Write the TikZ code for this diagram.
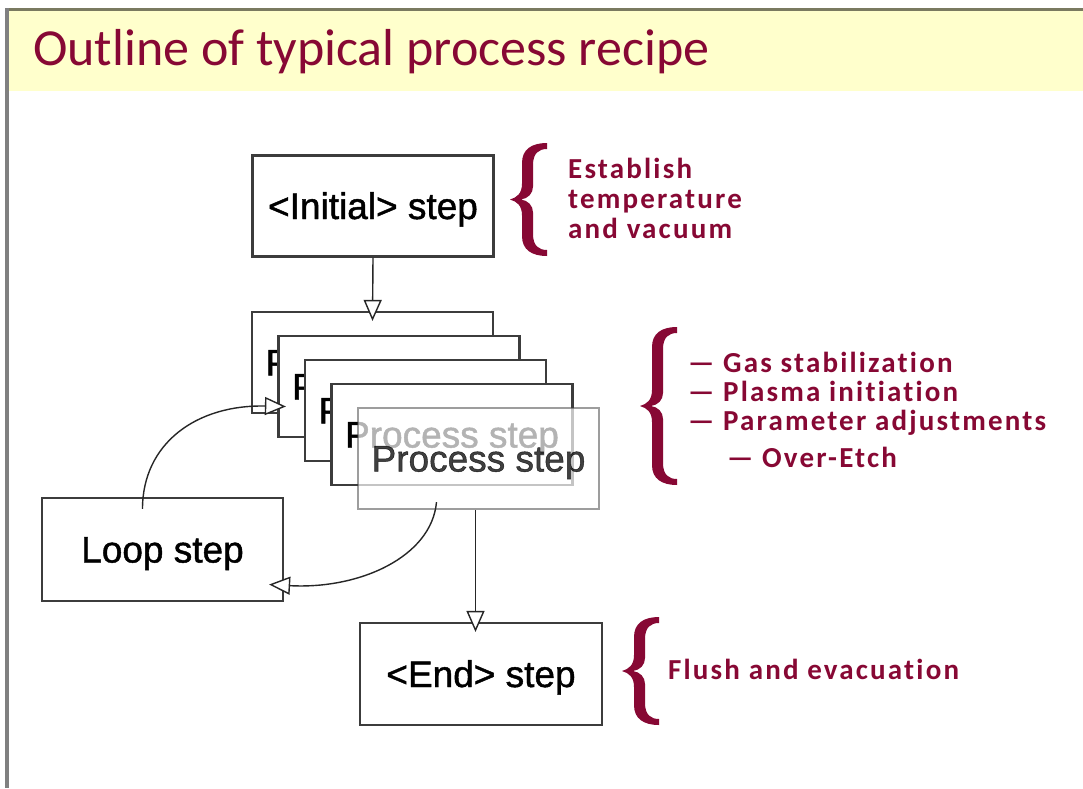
\documentclass[tikz,border=0pt]{standalone}
\usepackage{fontspec}
\setmainfont{Liberation Sans}
\newfontfamily\boxfont[FakeBold=1.2]{Liberation Sans}
\newfontfamily\notefont[LetterSpace=7.5,Ligatures=NoCommon]{Carlito}
\newfontfamily\titlefont{Carlito}
\usetikzlibrary{arrows.meta,calc}
\definecolor{rmaroon}{RGB}{135,8,52}
\definecolor{titlebg}{RGB}{255,255,204}
\definecolor{topline}{RGB}{122,122,96}
\definecolor{leftline}{RGB}{128,128,128}
\definecolor{boxline}{RGB}{60,60,60}
\newcommand\mybrace[3]{% #1 left x, #2 top y, #3 height
  \fill[rmaroon,shift={(#1,#2)}]
    (37,0) .. controls (22,0) and (12,6) .. (12,20)
    -- (12,{#3/2-16}) .. controls (12,{#3/2-6}) and (7,{#3/2-2}) .. (0,{#3/2})
    .. controls (7,{#3/2+2}) and (12,{#3/2+6}) .. (12,{#3/2+16})
    -- (12,{#3-20}) .. controls (12,{#3-6}) and (22,#3) .. (37,#3)
    -- (37,{#3-6}) .. controls (29,{#3-6}) and (23,{#3-10}) .. (23,{#3-22})
    -- (23,{#3/2+13}) .. controls (23,{#3/2+6}) and (18,{#3/2+1}) .. (11,{#3/2})
    .. controls (18,{#3/2-1}) and (23,{#3/2-6}) .. (23,{#3/2-13})
    -- (23,22) .. controls (23,10) and (29,6) .. (37,6) -- cycle;
}
\begin{document}
\begin{tikzpicture}[x=1pt,y=-1pt,
  stepbox/.style={draw=boxline, line width=2.2pt, fill=white,
    minimum width=241pt, minimum height=101pt, inner sep=0pt,
    text height=26pt, text depth=0pt,
    font=\boxfont\fontsize{37}{40}\selectfont},
  conn/.style={draw=black!85, line width=1.4pt,
    -{Triangle[length=21pt,width=18pt,fill=white,line width=1.4pt]}},
  note/.style={anchor=base west, inner sep=0pt, text=rmaroon,
    font=\notefont\bfseries\fontsize{29}{30}\selectfont}]
\useasboundingbox (0,0) rectangle (1083,788);
\fill[white] (0,0) rectangle (1083,788);
% title bar
\fill[titlebg] (7,9.5) rectangle (1083,91);
\draw[topline, line width=3pt] (5,9.5) -- (1083,9.5);
\draw[leftline, line width=4pt] (7,8) -- (7,788);
\node[anchor=base west, inner sep=0pt, text=rmaroon,
  font=\titlefont\fontsize{52}{56}\selectfont] (title) at (33,65) {Outline of typical process recipe};
% boxes
\node[stepbox] (init) at (373,206) {<Initial> step};
\node[stepbox] (b1) at (372.5,362.5) {Process step};
\node[stepbox] (b2) at (399,386.5) {Process step};
\node[stepbox] (b3) at (425.5,410.5) {Process step};
\node[stepbox] (b4) at (452,434.5) {Process step};
\node[stepbox, draw opacity=0.5, fill opacity=0.7, text opacity=0.75] (b5) at (478.5,458.5) {Process step};
\node[stepbox, minimum height=103pt] (loop) at (162.5,549.5) {Loop step};
\node[stepbox, minimum width=242pt, minimum height=102pt] (end) at (481,674) {<End> step};
% connectors
\draw[conn] (init.south) -- ([yshift=-10pt]b1.north);
\draw[conn] ([xshift=-20pt,yshift=-12pt]loop.north) .. controls +(0,-65) and +(-90,-2) .. ([xshift=35pt,yshift=-44pt]b1.west);
\draw[conn] ([xshift=-42pt,yshift=8pt]b5.south) .. controls +(-5,55) and +(90,5) .. ([xshift=-15pt,yshift=-35pt]loop.east);
\draw[conn] ([xshift=-3pt]b5.south) -- ([xshift=-3pt,yshift=-10pt]b5.south |- end.north);
% braces
\mybrace{510}{143}{113}
\mybrace{640}{327}{158}
\mybrace{622}{617}{108}
% notes
\node[note] (n1a) at (568,178) {Establish};
\node[note] (n1b) at (568,208) {temperature};
\node[note] (n1c) at (568,238) {and vacuum};
\node[note] (n2a) at (688,372) {— Gas stabilization};
\node[note] (n2b) at (688,401) {— Plasma initiation};
\node[note] (n2c) at (688,430) {— Parameter adjustments};
\node[note] (n2d) at (727,467) {— Over-Etch};
\node[note] (n3) at (668,679) {Flush and evacuation};
\end{tikzpicture}
\end{document}
